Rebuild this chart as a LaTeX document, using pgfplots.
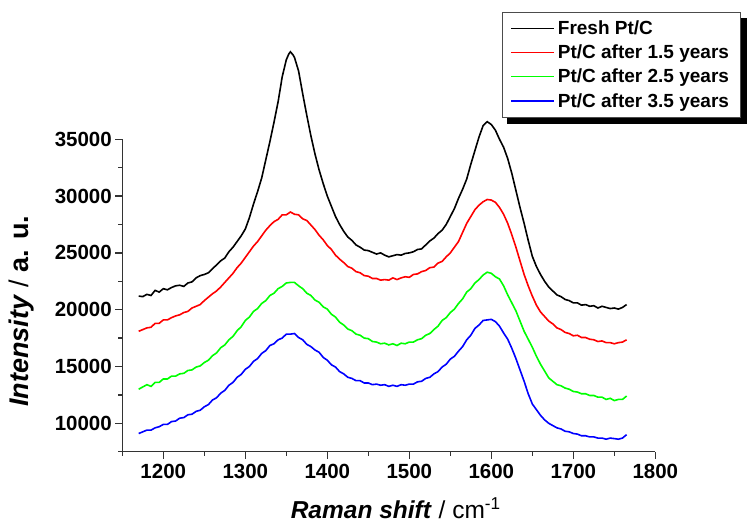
\documentclass[border=0pt]{standalone}
\usepackage{pgfplots}
\pgfplotsset{compat=1.18}
\usepackage{fontspec}
\setmainfont{Liberation Sans}
\usetikzlibrary{calc}

\pgfplotstableread{
x y
1170 21200
1175 21150
1180 21350
1185 21250
1190 21700
1195 21550
1200 21850
1205 21750
1210 21950
1215 22100
1220 22150
1225 22050
1230 22350
1235 22450
1240 22800
1245 23000
1250 23100
1255 23250
1260 23600
1265 23950
1270 24300
1275 24550
1280 25100
1285 25500
1290 26000
1295 26500
1300 27100
1305 28100
1310 29300
1315 30400
1320 31600
1325 33200
1330 34800
1335 36500
1340 38300
1345 40500
1350 42000
1353 42500
1355 42700
1358 42450
1360 42200
1365 41000
1370 39000
1375 37100
1380 35300
1385 33700
1390 32300
1395 31100
1400 30000
1405 29100
1410 28200
1415 27500
1420 26900
1425 26400
1430 26100
1435 25700
1440 25500
1445 25250
1450 25200
1455 25050
1460 24900
1465 25000
1470 24800
1475 24650
1480 24750
1485 24850
1490 24800
1495 24950
1500 25000
1505 25100
1510 25300
1515 25350
1520 25700
1525 26050
1530 26300
1535 26700
1540 27000
1545 27500
1550 28200
1555 28900
1560 29800
1565 30600
1570 31500
1575 32800
1580 34000
1585 35200
1590 36200
1595 36550
1600 36300
1605 35800
1610 35000
1615 34300
1620 33300
1625 32000
1630 30500
1635 29000
1640 27600
1645 26100
1650 24700
1655 23800
1660 23100
1665 22500
1670 22000
1675 21650
1680 21300
1685 21150
1690 20900
1695 20800
1700 20600
1705 20600
1710 20400
1715 20450
1720 20300
1725 20350
1730 20150
1735 20300
1740 20200
1745 20100
1750 20150
1755 20050
1760 20200
1765 20450
}\tblack

\pgfplotstableread{
x y
1170 18100
1175 18250
1180 18400
1185 18450
1190 18800
1195 18800
1200 19100
1205 19100
1210 19300
1215 19450
1220 19550
1225 19750
1230 19850
1235 20150
1240 20300
1245 20450
1250 20800
1255 21100
1260 21400
1265 21650
1270 22000
1275 22400
1280 22800
1285 23200
1290 23700
1295 24100
1300 24600
1305 25100
1310 25600
1315 26000
1320 26500
1325 27000
1330 27400
1335 27750
1340 27950
1345 28350
1350 28350
1355 28600
1360 28400
1365 28350
1370 28000
1375 27850
1380 27450
1385 27050
1390 26550
1395 26150
1400 25650
1405 25300
1410 24800
1415 24450
1420 24150
1425 23800
1430 23650
1435 23350
1440 23250
1445 23000
1450 22950
1455 22750
1460 22750
1465 22600
1470 22650
1475 22600
1480 22800
1485 22650
1490 22800
1495 22900
1500 22850
1505 23100
1510 23150
1515 23350
1520 23450
1525 23700
1530 23750
1535 24100
1540 24250
1545 24650
1550 25000
1555 25500
1560 26000
1565 26800
1570 27600
1575 28200
1580 28800
1585 29200
1590 29500
1595 29700
1600 29650
1605 29450
1610 29000
1615 28400
1620 27600
1625 26600
1630 25500
1635 24300
1640 23100
1645 22100
1650 21200
1655 20400
1660 19800
1665 19400
1670 19000
1675 18750
1680 18400
1685 18250
1690 18000
1695 17900
1700 17700
1705 17750
1710 17550
1715 17550
1720 17400
1725 17350
1730 17200
1735 17250
1740 17100
1745 17100
1750 17000
1755 17100
1760 17150
1765 17350
}\tred

\pgfplotstableread{
x y
1170 13000
1175 13200
1180 13400
1185 13250
1190 13600
1195 13600
1200 13900
1205 13900
1210 14150
1215 14150
1220 14350
1225 14400
1230 14650
1235 14700
1240 14950
1245 15050
1250 15350
1255 15550
1260 15950
1265 16200
1270 16650
1275 16900
1280 17350
1285 17650
1290 18150
1295 18500
1300 19050
1305 19350
1310 19850
1315 20100
1320 20550
1325 20800
1330 21250
1335 21450
1340 21850
1345 22050
1350 22350
1355 22400
1360 22400
1365 22100
1370 21850
1375 21450
1380 21250
1385 20850
1390 20650
1395 20250
1400 20050
1405 19600
1410 19350
1415 18900
1420 18650
1425 18300
1430 18150
1435 17850
1440 17750
1445 17500
1450 17450
1455 17200
1460 17150
1465 17000
1470 17050
1475 16900
1480 17000
1485 16850
1490 17050
1495 17000
1500 17150
1505 17150
1510 17350
1515 17450
1520 17750
1525 17900
1530 18250
1535 18550
1540 19050
1545 19300
1550 19750
1555 20050
1560 20550
1565 20950
1570 21550
1575 21850
1580 22350
1585 22650
1590 23050
1595 23300
1600 23200
1605 22900
1610 22700
1615 22100
1620 21300
1625 20600
1630 19900
1635 19000
1640 18100
1645 17400
1650 16700
1655 15900
1660 15200
1665 14600
1670 14000
1675 13700
1680 13400
1685 13300
1690 13100
1695 13000
1700 12800
1705 12750
1710 12600
1715 12600
1720 12450
1725 12450
1730 12300
1735 12300
1740 12100
1745 12200
1750 12000
1755 12100
1760 12100
1765 12400
}\tgreen

\pgfplotstableread{
x y
1170 9100
1175 9250
1180 9400
1185 9400
1190 9600
1195 9700
1200 9900
1205 9900
1210 10150
1215 10200
1220 10450
1225 10500
1230 10750
1235 10800
1240 11050
1245 11150
1250 11450
1255 11650
1260 12050
1265 12250
1270 12650
1275 12900
1280 13350
1285 13600
1290 14050
1295 14300
1300 14750
1305 15000
1310 15450
1315 15700
1320 16150
1325 16400
1330 16850
1335 17000
1340 17350
1345 17500
1350 17850
1355 17850
1360 17900
1365 17550
1370 17350
1375 16950
1380 16750
1385 16450
1390 16250
1395 15800
1400 15550
1405 15150
1410 14950
1415 14550
1420 14350
1425 14050
1430 13950
1435 13750
1440 13750
1445 13550
1450 13550
1455 13400
1460 13450
1465 13350
1470 13400
1475 13250
1480 13350
1485 13250
1490 13400
1495 13350
1500 13450
1505 13450
1510 13650
1515 13700
1520 13950
1525 14050
1530 14350
1535 14550
1540 14950
1545 15200
1550 15650
1555 15900
1560 16350
1565 16750
1570 17350
1575 17750
1580 18350
1585 18650
1590 19050
1595 19100
1600 19150
1605 18950
1610 18550
1615 17950
1620 17400
1625 16600
1630 15700
1635 14700
1640 13700
1645 12600
1650 11700
1655 11200
1660 10700
1665 10300
1670 10000
1675 9800
1680 9600
1685 9500
1690 9300
1695 9250
1700 9100
1705 9050
1710 8900
1715 8900
1720 8800
1725 8800
1730 8700
1735 8700
1740 8600
1745 8700
1750 8650
1755 8600
1760 8700
1765 9000
}\tblue

\begin{document}
\begin{tikzpicture}[x=1bp,y=1bp]
\useasboundingbox (0,0) rectangle (747,527);
\begin{axis}[
  at={(122.3bp,75.3bp)}, anchor=south west,
  scale only axis, width=533bp, height=312.4bp,
  xmin=1150, xmax=1800, ymin=7500, ymax=35000,
  clip=false,
  axis lines=left,
  axis line style={-, line width=1.3bp, black!80},
  xtick={1200,1300,...,1800},
  ytick={10000,15000,...,35000},
  minor xtick={1150,1250,...,1750},
  minor ytick={7500,12500,...,32500},
  tick align=outside,
  major tick length=7bp, minor tick length=4bp,
  every tick/.style={line width=1.3bp, black!80},
  scaled ticks=false,
  /pgf/number format/assume math mode=true,
  /pgf/number format/set thousands separator={},
  ticklabel style={font=\fontsize{20.5bp}{24bp}\selectfont\bfseries},
  xticklabel style={yshift=-2bp},
  xlabel={\textbf{\textit{Raman shift}} / cm\textsuperscript{-1}},
  ylabel={\textbf{\textit{Intensity}} / \textbf{a. u.}},
  xlabel style={font=\fontsize{24.5bp}{28bp}\selectfont, at={(axis description cs:0.513,-0.18)}, anchor=center},
  ylabel style={font=\fontsize{27bp}{31bp}\selectfont, at={(axis description cs:-0.19,0.45)}, anchor=center},
  legend cell align=left,
  legend image code/.code={\draw[#1, line width=1.3bp] (0bp,0bp) -- (43bp,0bp);},
  legend style={name=leg, at={(axis description cs:0.7118,1.4085)}, anchor=north west,
    draw=black!70, line width=0.8bp, fill=white,
    font=\fontsize{19bp}{22bp}\selectfont\bfseries,
    inner xsep=8.5bp, inner ysep=5.5bp, row sep=3bp, column sep=0bp,
    nodes={inner ysep=3bp, inner xsep=3bp}},
]
\addplot[black, line width=1.6bp] table[x=x,y=y] {\tblack};
\addlegendentry{\vphantom{Py}Fresh Pt/C}
\addplot[red, line width=1.6bp] table[x=x,y=y] {\tred};
\addlegendentry{\vphantom{Py}Pt/C after 1.5 years}
\addplot[green, line width=1.6bp] table[x=x,y=y] {\tgreen};
\addlegendentry{\vphantom{Py}Pt/C after 2.5 years}
\addplot[blue, line width=1.6bp] table[x=x,y=y] {\tblue};
\addlegendentry{\vphantom{Py}Pt/C after 3.5 years}
\end{axis}
\fill[black] ($(leg.south west)+(5bp,-6bp)$) rectangle ($(leg.south east)+(6bp,-0.4bp)$);
\fill[black] ($(leg.south east)+(0.4bp,-6bp)$) rectangle ($(leg.north east)+(6bp,-6bp)$);
\end{tikzpicture}
\end{document}
